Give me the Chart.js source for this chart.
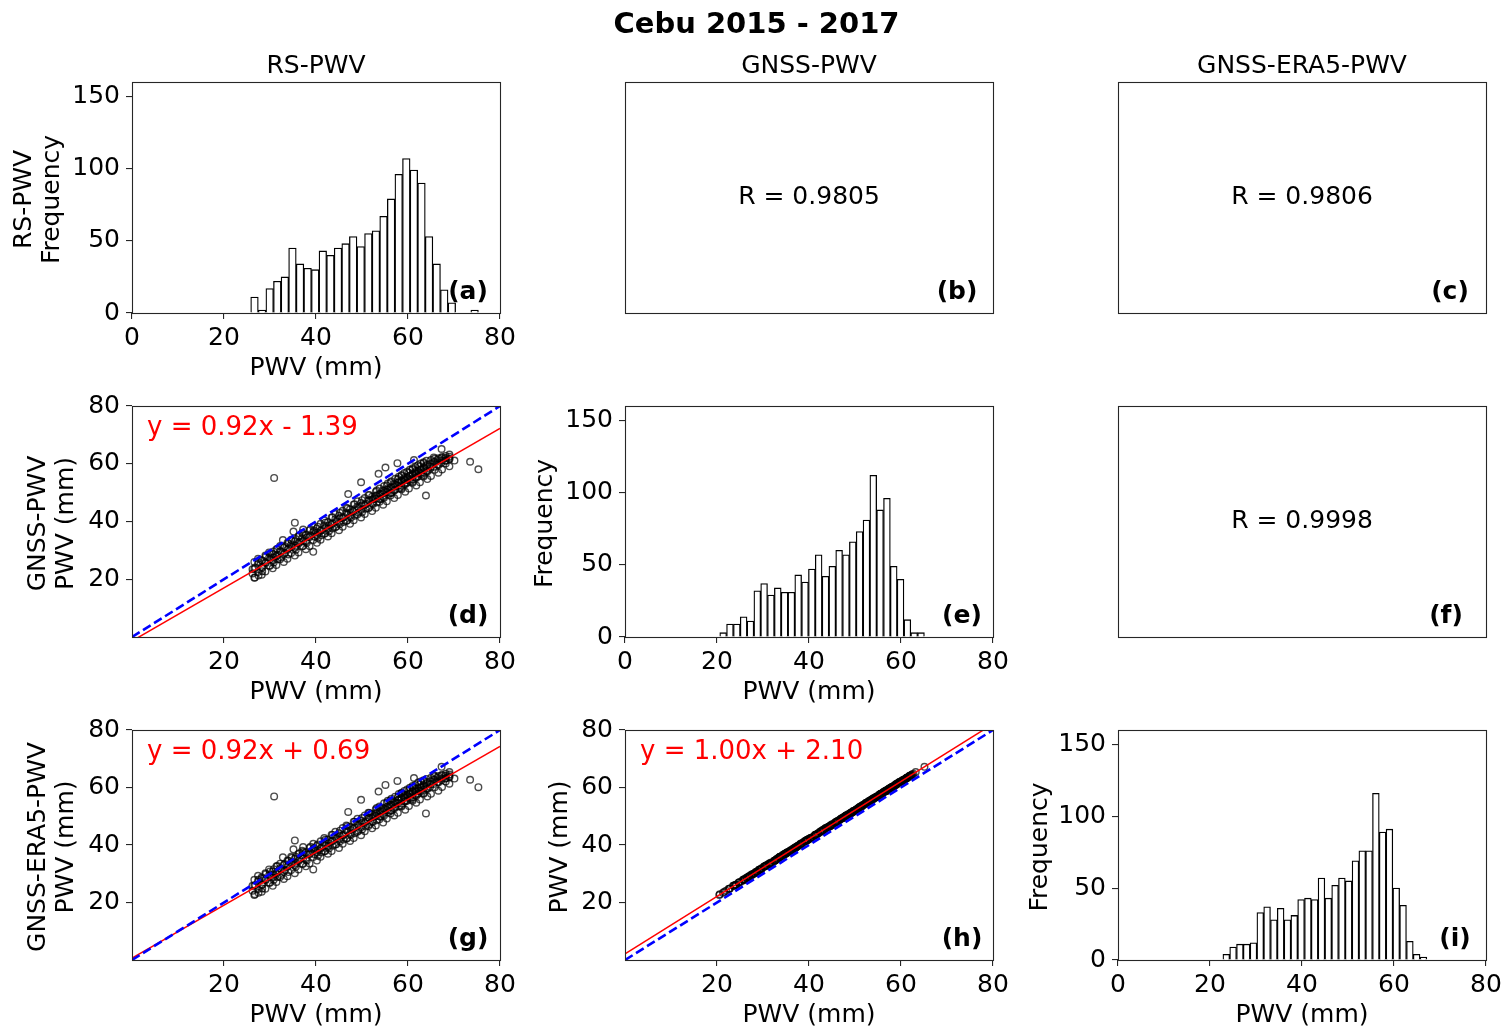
<!DOCTYPE html>
<html>
<head>
<meta charset="utf-8">
<title>Cebu 2015 - 2017</title>
<script src="https://cdn.jsdelivr.net/npm/chart.js@4.4.1/dist/chart.umd.min.js"></script>
<style>
  html, body { margin: 0; background: #fff; }
  #fig { position: relative; width: 1509px; height: 1030px; }
  #fig canvas { position: absolute; left: 0; top: 0; }
</style>
</head>
<body>
<div id="fig"></div>
<script>
// histogram bin centres (mm) and counts
const rsBins = [26.63, 28.28, 29.93, 31.58, 33.23, 34.88, 36.53, 38.18, 39.83, 41.48,
  43.13, 44.78, 46.43, 48.08, 49.73, 51.38, 53.03, 54.68, 56.33, 57.98,
  59.63, 61.28, 62.93, 64.58, 66.23, 67.88, 69.53, 71.18, 72.83, 74.48];
const rsCounts = [11, 2, 17, 22, 25, 45, 34, 31, 30, 43, 40, 45, 48, 53, 46, 55, 57, 67, 79, 96,
  107, 99, 90, 53, 34, 16, 7, 0, 0, 2];

const gnssBins = [21.34, 22.82, 24.31, 25.79, 27.27, 28.76, 30.24, 31.72, 33.21, 34.69,
  36.17, 37.65, 39.14, 40.62, 42.10, 43.59, 45.07, 46.55, 48.04, 49.52,
  51.00, 52.49, 53.97, 55.45, 56.94, 58.42, 59.90, 61.39, 62.87, 64.35];
const gnssCounts = [3, 9, 9, 14, 11, 32, 37, 29, 34, 31, 31, 43, 38, 47, 57, 42, 49, 60, 57, 66,
  73, 81, 112, 88, 96, 49, 40, 12, 3, 3];

const era5Bins = [23.54, 25.02, 26.50, 27.97, 29.45, 30.93, 32.41, 33.89, 35.36, 36.84,
  38.32, 39.80, 41.28, 42.75, 44.23, 45.71, 47.19, 48.67, 50.14, 51.62,
  53.10, 54.58, 56.06, 57.53, 59.01, 60.49, 61.97, 63.45, 64.92, 66.40];
const era5Counts = [4, 9, 11, 11, 12, 33, 37, 28, 36, 28, 31, 42, 43, 42, 57, 43, 52, 57, 55, 69,
  76, 76, 116, 89, 91, 50, 38, 13, 4, 2];

// paired observations (mm): RS, GNSS and GNSS-ERA5 for the same launches
const rsPwv = [26.2, 26.2, 26.7, 26.8, 27.5, 27.5, 28.3, 28.3, 28.3, 29.1,
  29.1, 30.0, 30.0, 30.0, 30.8, 30.8, 30.8, 30.9, 31.6, 31.6,
  31.6, 32.4, 32.4, 32.8, 33.2, 33.2, 34.0, 34.0, 34.0, 34.7,
  34.7, 35.1, 35.4, 35.6, 35.6, 35.6, 36.4, 36.4, 37.2, 37.2,
  37.2, 37.2, 38.0, 38.0, 38.8, 38.8, 39.4, 39.6, 39.6, 40.4,
  40.4, 40.4, 41.2, 41.2, 42.0, 42.0, 42.0, 42.8, 42.8, 43.6,
  43.6, 43.6, 44.4, 44.4, 45.2, 45.2, 45.2, 46.0, 46.0, 46.8,
  46.8, 46.8, 47.0, 47.6, 47.6, 48.4, 48.4, 48.4, 49.2, 49.2,
  49.8, 50.0, 50.0, 50.0, 50.8, 50.8, 51.6, 51.6, 51.6, 52.4,
  52.4, 53.2, 53.2, 53.2, 53.6, 54.0, 54.0, 54.8, 54.8, 54.8,
  55.1, 55.6, 55.6, 55.6, 56.4, 56.4, 56.4, 57.2, 57.2, 57.2,
  57.7, 58.0, 58.0, 58.0, 58.6, 58.6, 58.6, 59.2, 59.2, 59.2,
  59.8, 59.8, 59.8, 60.4, 60.4, 60.4, 61.0, 61.0, 61.0, 61.3,
  61.6, 61.6, 61.6, 62.2, 62.2, 62.2, 62.8, 62.8, 62.8, 63.4,
  63.4, 63.4, 63.9, 64.0, 64.0, 64.0, 64.8, 64.8, 65.6, 65.6,
  65.6, 66.4, 66.4, 67.3, 67.3, 67.3, 68.2, 68.2, 69.0, 69.0,
  70.1, 73.5, 75.3,
  26.6, 26.6, 26.6, 27.4, 27.4, 27.4, 28.2, 28.2, 28.2, 29.0, 29.0, 29.0,
  29.8, 29.8, 29.8, 30.6, 30.6, 30.6, 31.4, 31.4, 31.4, 32.2, 32.2, 32.2,
  33.0, 33.0, 33.0, 33.8, 33.8, 33.8, 34.6, 34.6, 34.6, 35.4, 35.4, 35.4,
  36.2, 36.2, 36.2, 37.0, 37.0, 37.0, 37.8, 37.8, 37.8, 38.6, 38.6, 38.6,
  39.4, 39.4, 39.4, 40.2, 40.2, 40.2, 41.0, 41.0, 41.0, 41.8, 41.8, 41.8,
  42.6, 42.6, 42.6, 43.4, 43.4, 43.4, 44.2, 44.2, 44.2, 45.0, 45.0, 45.0,
  45.8, 45.8, 45.8, 46.6, 46.6, 46.6, 47.4, 47.4, 47.4, 48.2, 48.2, 48.2,
  49.0, 49.0, 49.0, 49.8, 49.8, 49.8, 50.6, 50.6, 50.6, 51.4, 51.4, 51.4,
  52.2, 52.2, 52.2, 52.2, 53.0, 53.0, 53.0, 53.0, 53.8, 53.8, 53.8, 53.8,
  54.6, 54.6, 54.6, 54.6, 55.4, 55.4, 55.4, 55.4, 56.2, 56.2, 56.2, 56.2,
  57.0, 57.0, 57.0, 57.0, 57.8, 57.8, 57.8, 57.8, 58.6, 58.6, 58.6, 58.6,
  59.4, 59.4, 59.4, 59.4, 60.2, 60.2, 60.2, 60.2, 61.0, 61.0, 61.0, 61.0,
  61.8, 61.8, 61.8, 61.8, 62.6, 62.6, 62.6, 62.6, 63.4, 63.4, 63.4, 63.4,
  64.2, 64.2, 64.2, 65.0, 65.0, 65.0, 65.8, 65.8, 65.8, 66.6, 66.6, 66.6,
  67.4, 67.4, 67.4, 68.2, 68.2, 68.2, 69.0, 69.0, 69.0];
const gnssPwv = [22.0, 23.5, 20.6, 24.1, 21.3, 25.9, 24.0, 26.5, 22.8, 25.6,
  27.8, 26.9, 24.7, 28.8, 27.5, 29.6, 25.8, 55.1, 28.4, 26.9,
  30.5, 29.6, 27.5, 33.6, 29.1, 31.4, 30.7, 28.6, 32.5, 31.2,
  33.4, 36.5, 39.6, 31.6, 33.9, 30.2, 32.9, 35.1, 33.1, 35.6,
  37.2, 31.5, 34.5, 32.6, 35.2, 37.3, 29.5, 34.8, 36.9, 36.1,
  38.2, 34.3, 37.0, 35.2, 37.8, 39.6, 35.9, 38.5, 36.6, 39.4,
  41.5, 37.6, 40.1, 38.3, 41.2, 43.0, 39.1, 41.5, 39.8, 42.6,
  44.5, 40.4, 49.5, 43.1, 41.4, 44.2, 42.0, 46.0, 44.7, 43.0,
  53.6, 45.6, 47.4, 43.2, 46.1, 44.4, 47.3, 49.1, 45.0, 47.8,
  46.1, 48.9, 50.7, 46.6, 56.5, 49.5, 47.7, 50.6, 52.3, 48.2,
  58.7, 51.0, 49.4, 53.2, 51.8, 50.0, 53.9, 52.7, 51.0, 54.8,
  60.2, 53.6, 51.5, 55.5, 54.2, 52.4, 56.1, 54.6, 53.0, 56.8,
  55.3, 53.4, 57.2, 55.8, 54.0, 57.9, 56.5, 54.6, 58.4, 61.3,
  56.9, 55.2, 58.8, 57.6, 55.7, 59.5, 58.0, 56.4, 60.1, 58.7,
  57.0, 60.5, 49.0, 59.2, 57.5, 61.0, 59.9, 58.3, 60.6, 59.0,
  62.2, 61.3, 59.7, 65.1, 62.0, 60.4, 62.7, 61.0, 63.2, 61.6,
  61.1, 60.7, 58.1,
  20.5, 23.6, 26.0, 22.5, 25.3, 27.1, 21.6, 24.2, 26.6, 22.7, 25.8, 28.2,
  24.7, 27.5, 29.3, 23.8, 26.4, 28.8, 24.9, 28.0, 30.4, 26.9, 29.7, 31.5,
  26.0, 28.6, 31.0, 27.1, 30.2, 32.6, 29.1, 31.9, 33.7, 28.2, 30.8, 33.2,
  29.3, 32.4, 34.8, 31.4, 34.2, 36.0, 30.4, 33.0, 35.4, 31.5, 34.6, 37.0,
  33.6, 36.4, 38.2, 32.6, 35.2, 37.6, 33.7, 36.8, 39.2, 35.8, 38.6, 40.4,
  34.8, 37.4, 39.8, 35.9, 39.0, 41.4, 38.0, 40.8, 42.6, 37.0, 39.6, 42.0,
  38.2, 41.3, 43.7, 40.2, 43.0, 44.8, 39.2, 41.8, 44.2, 40.4, 43.5, 45.9,
  42.4, 45.2, 47.0, 41.4, 44.0, 46.4, 42.6, 45.7, 48.1, 44.6, 47.4, 49.2,
  43.6, 46.2, 48.6, 47.6, 44.8, 47.9, 50.3, 49.0, 46.8, 49.6, 51.4, 47.9,
  45.8, 48.4, 50.8, 49.8, 47.0, 50.1, 52.5, 51.2, 49.0, 51.8, 53.6, 49.8,
  48.1, 50.7, 53.1, 52.1, 49.2, 52.3, 54.7, 53.5, 51.2, 54.0, 55.8, 51.6,
  50.3, 52.9, 55.3, 54.3, 51.4, 54.5, 56.9, 55.7, 53.4, 56.2, 58.0, 53.8,
  52.5, 55.1, 57.5, 56.5, 53.6, 56.7, 59.1, 57.9, 55.6, 58.4, 60.2, 56.0,
  54.7, 57.3, 59.7, 55.8, 58.9, 61.3, 57.9, 60.7, 61.8, 56.9, 59.5, 61.9,
  58.0, 61.1, 62.3, 60.1, 62.0, 61.2, 59.1, 61.7, 62.4];
const gnssEra5Pwv = [24.1, 25.8, 22.9, 26.1, 23.4, 27.9, 26.2, 28.4, 24.9, 27.8,
  29.9, 29.0, 26.9, 30.8, 29.7, 31.6, 27.9, 56.9, 30.6, 28.9,
  32.7, 31.6, 29.6, 35.7, 31.3, 33.4, 32.9, 30.6, 34.5, 33.4,
  35.5, 38.5, 41.6, 33.8, 35.9, 32.4, 35.0, 37.1, 35.3, 37.6,
  39.3, 33.5, 36.7, 34.6, 37.3, 39.4, 31.5, 36.9, 39.0, 38.3,
  40.2, 36.3, 39.1, 37.4, 39.8, 41.8, 37.9, 40.6, 38.8, 41.5,
  43.5, 39.7, 42.3, 40.3, 43.3, 45.0, 41.3, 43.6, 41.9, 44.8,
  46.5, 42.4, 51.5, 45.2, 43.6, 46.2, 44.1, 48.1, 46.9, 45.0,
  55.7, 47.7, 49.4, 45.4, 48.3, 46.4, 49.4, 51.1, 47.2, 49.9,
  48.1, 51.0, 52.9, 48.6, 58.6, 51.7, 49.8, 52.6, 54.5, 50.3,
  60.9, 53.1, 51.4, 55.4, 53.9, 52.0, 56.1, 54.8, 53.2, 56.8,
  62.3, 55.7, 53.5, 57.7, 56.4, 54.4, 58.2, 56.7, 55.2, 58.8,
  57.5, 55.4, 59.3, 57.9, 56.2, 59.9, 58.7, 56.6, 60.5, 63.3,
  59.0, 57.4, 60.8, 59.7, 57.8, 61.7, 60.1, 58.6, 62.1, 60.8,
  59.2, 62.5, 51.0, 61.3, 59.7, 63.0, 62.1, 60.3, 62.7, 61.2,
  64.2, 63.4, 61.9, 67.2, 64.1, 62.6, 64.8, 63.1, 65.4, 63.6,
  63.1, 62.7, 60.1,
  22.6, 25.8, 27.9, 24.7, 27.3, 29.3, 23.7, 26.2, 28.8, 24.8, 28.0, 30.2,
  26.9, 29.5, 31.5, 25.8, 28.6, 30.8, 27.1, 30.0, 32.6, 28.9, 31.9, 33.5,
  28.2, 30.6, 33.1, 29.1, 32.4, 34.6, 31.3, 33.9, 35.9, 30.2, 33.0, 35.2,
  31.5, 34.4, 36.9, 33.4, 36.4, 38.0, 32.6, 35.0, 37.5, 33.6, 36.8, 39.0,
  35.8, 38.4, 40.4, 34.6, 37.4, 39.7, 35.9, 38.8, 41.3, 37.8, 40.8, 42.4,
  37.0, 39.4, 41.9, 37.9, 41.2, 43.6, 40.2, 42.8, 44.6, 39.0, 41.8, 44.1,
  40.4, 43.3, 45.9, 42.2, 45.2, 46.8, 41.4, 43.8, 46.3, 42.4, 45.7, 48.1,
  44.6, 47.2, 49.1, 43.4, 46.2, 48.5, 44.8, 47.7, 50.3, 46.6, 49.6, 51.2,
  45.8, 48.2, 50.7, 49.6, 46.8, 50.1, 52.4, 51.1, 49.0, 51.6, 53.4, 50.0,
  47.8, 50.6, 52.9, 51.9, 49.2, 52.1, 54.7, 53.3, 51.0, 54.0, 55.6, 51.9,
  50.3, 52.7, 55.2, 54.2, 51.2, 54.5, 56.7, 55.6, 53.4, 56.0, 57.9, 53.7,
  52.3, 55.1, 57.4, 56.4, 53.6, 56.5, 59.0, 57.8, 55.4, 58.4, 60.0, 55.9,
  54.7, 57.1, 59.6, 58.6, 55.8, 58.9, 61.1, 60.0, 57.8, 60.4, 62.3, 58.1,
  56.9, 59.5, 61.8, 57.8, 61.1, 63.4, 60.1, 62.7, 63.9, 58.9, 61.7, 64.0,
  60.2, 63.1, 64.4, 62.1, 64.1, 63.3, 61.3, 63.9, 64.5];

// linear fits and correlations
const fitGnssRs = { slope: 0.92, intercept: -1.39 };
const fitEra5Rs = { slope: 0.92, intercept: 0.69 };
const fitEra5Gnss = { slope: 1.00, intercept: 2.10 };
const rGnssRs = 0.9805;
const rEra5Rs = 0.9806;
const rEra5Gnss = 0.9998;

// tick labels
const histTicksX = [0, 20, 40, 60, 80];
const histTicksY = [0, 50, 100, 150];
const pwvTicks = [20, 40, 60, 80];

const W = 1509, H = 1030;
const colLeft = [132, 625, 1118], colRight = [500, 993, 1486];
const rowTop = [82, 406, 730], rowBottom = [313, 637, 960];
const Y_AXIS_W = 70, X_AXIS_H = 45;
const FONT = "'DejaVu Sans', sans-serif";

Chart.defaults.font.family = FONT;
Chart.defaults.font.size = 25;
Chart.defaults.color = '#000';
Chart.defaults.animation = false;

// frame, titles, axis labels and annotations, matplotlib style
const decor = {
  id: 'decor',
  afterDraw(chart, args, o) {
    const { ctx, chartArea: a } = chart;
    const cx = (a.left + a.right) / 2, cy = (a.top + a.bottom) / 2;
    ctx.save();
    ctx.strokeStyle = '#262626';
    ctx.lineWidth = 1.1;
    ctx.strokeRect(Math.round(a.left) + 0.5, Math.round(a.top) + 0.5, Math.round(a.width), Math.round(a.height));
    ctx.fillStyle = '#000';
    ctx.font = `25px ${FONT}`;
    ctx.textBaseline = 'alphabetic';
    ctx.textAlign = 'center';
    if (o.title) ctx.fillText(o.title, cx, a.top - 9);
    if (o.xlabel) ctx.fillText(o.xlabel, cx, a.bottom + 62);
    (o.ylabel || []).forEach(([txt, dx]) => {
      ctx.save();
      ctx.translate(a.left + dx, cy + 2);
      ctx.rotate(-Math.PI / 2);
      ctx.textBaseline = 'middle';
      ctx.fillText(txt, 0, 0);
      ctx.restore();
    });
    if (o.rText) {
      ctx.textBaseline = 'middle';
      ctx.fillText(o.rText, cx, cy);
      ctx.textBaseline = 'alphabetic';
    }
    if (o.eq) {
      ctx.fillStyle = '#ff0000';
      ctx.font = `26px ${FONT}`;
      ctx.textAlign = 'left';
      ctx.fillText(o.eq, a.left + 15, a.top + 29);
      ctx.textAlign = 'center';
      ctx.fillStyle = '#000';
    }
    if (o.letter) {
      ctx.font = `bold 25px ${FONT}`;
      ctx.fillText(o.letter, a.right - o.letterDx, a.bottom - 14);
    }
    if (o.suptitle) {
      ctx.font = `bold 29px ${FONT}`;
      ctx.fillText(o.suptitle, W / 2 + 2, 33);
    }
    ctx.restore();
  }
};

function box(row, col) {
  return { l: colLeft[col], r: colRight[col], t: rowTop[row], b: rowBottom[row] };
}

function padFor(b, withAxes) {
  return withAxes
    ? { left: b.l - Y_AXIS_W, right: W - b.r, top: b.t, bottom: H - b.b - X_AXIS_H }
    : { left: b.l, right: W - b.r, top: b.t, bottom: H - b.b };
}

function linAxis(min, max, ticks, axis) {
  return {
    type: 'linear', min, max, offset: false,
    grid: { drawOnChartArea: false, drawTicks: true, tickLength: 6, color: '#262626', lineWidth: 1.1, offset: false },
    border: { display: false },
    ticks: { padding: axis === 'x' ? 4 : 6, autoSkip: false, maxRotation: 0, minRotation: 0, color: '#000', font: { size: 25 } },
    afterBuildTicks: s => { s.ticks = ticks.map(v => ({ value: v })); },
    afterFit: s => {
      if (axis === 'x') { s.height = X_AXIS_H; s.paddingLeft = 0; s.paddingRight = 0; }
      else { s.width = Y_AXIS_W; s.paddingTop = 0; s.paddingBottom = 0; }
    }
  };
}

function addChart(config) {
  const c = document.createElement('canvas');
  c.width = W;
  c.height = H;
  document.getElementById('fig').appendChild(c);
  config.options.responsive = false;
  config.options.devicePixelRatio = 1;
  config.options.plugins.legend = { display: false };
  config.options.plugins.tooltip = { enabled: false };
  config.plugins = [decor];
  return new Chart(c, config);
}

function histPanel(row, col, bins, counts, deco) {
  return addChart({
    type: 'bar',
    data: {
      datasets: [{
        data: bins.map((x, i) => ({ x, y: counts[i] })),
        backgroundColor: '#fff', borderColor: '#000', borderWidth: 1.3,
        barPercentage: 1, categoryPercentage: 1
      }]
    },
    options: {
      layout: { padding: padFor(box(row, col), true) },
      plugins: { decor: deco },
      scales: { x: linAxis(0, 80, histTicksX, 'x'), y: linAxis(0, 160, histTicksY, 'y') }
    }
  });
}

function scatterPanel(row, col, xs, ys, fit, deco) {
  return addChart({
    type: 'scatter',
    data: {
      datasets: [
        { data: [{ x: 0, y: 0 }, { x: 80, y: 80 }], showLine: true, borderColor: '#0000ff',
          borderWidth: 2.6, borderDash: [9, 4], pointRadius: 0, order: 1 },
        { data: [{ x: 0, y: fit.intercept }, { x: 80, y: fit.slope * 80 + fit.intercept }], showLine: true,
          borderColor: '#ff0000', borderWidth: 1.5, pointRadius: 0, order: 2 },
        { data: xs.map((x, i) => ({ x, y: ys[i] })), pointRadius: 3.3, pointBorderWidth: 1.4,
          pointBorderColor: 'rgba(0,0,0,0.7)', pointBackgroundColor: 'rgba(0,0,0,0)', order: 3 }
      ]
    },
    options: {
      layout: { padding: padFor(box(row, col), true) },
      plugins: { decor: deco },
      scales: { x: linAxis(0, 80, pwvTicks, 'x'), y: linAxis(0, 80, pwvTicks, 'y') }
    }
  });
}

function textPanel(row, col, deco) {
  return addChart({
    type: 'scatter',
    data: { datasets: [] },
    options: {
      layout: { padding: padFor(box(row, col), false) },
      plugins: { decor: deco },
      scales: { x: { display: false, min: 0, max: 1 }, y: { display: false, min: 0, max: 1 } }
    }
  });
}

const eqText = f => `y = ${f.slope.toFixed(2)}x ${f.intercept < 0 ? '-' : '+'} ${Math.abs(f.intercept).toFixed(2)}`;
const rText = r => `R = ${r.toFixed(4)}`;

histPanel(0, 0, rsBins, rsCounts, {
  title: 'RS-PWV', xlabel: 'PWV (mm)', ylabel: [['RS-PWV', -108], ['Frequency', -80]], letter: '(a)', letterDx: 32
});
textPanel(0, 1, { title: 'GNSS-PWV', suptitle: 'Cebu 2015 - 2017', rText: rText(rGnssRs), letter: '(b)', letterDx: 36 });
textPanel(0, 2, { title: 'GNSS-ERA5-PWV', rText: rText(rEra5Rs), letter: '(c)', letterDx: 36 });

scatterPanel(1, 0, rsPwv, gnssPwv, fitGnssRs, {
  xlabel: 'PWV (mm)', ylabel: [['GNSS-PWV', -94], ['PWV (mm)', -66]], eq: eqText(fitGnssRs), letter: '(d)', letterDx: 32
});
histPanel(1, 1, gnssBins, gnssCounts, { xlabel: 'PWV (mm)', ylabel: [['Frequency', -80]], letter: '(e)', letterDx: 31 });
textPanel(1, 2, { rText: rText(rEra5Gnss), letter: '(f)', letterDx: 40 });

scatterPanel(2, 0, rsPwv, gnssEra5Pwv, fitEra5Rs, {
  xlabel: 'PWV (mm)', ylabel: [['GNSS-ERA5-PWV', -94], ['PWV (mm)', -66]], eq: eqText(fitEra5Rs), letter: '(g)', letterDx: 32
});
scatterPanel(2, 1, gnssPwv, gnssEra5Pwv, fitEra5Gnss, {
  xlabel: 'PWV (mm)', ylabel: [['PWV (mm)', -65]], eq: eqText(fitEra5Gnss), letter: '(h)', letterDx: 31
});
histPanel(2, 2, era5Bins, era5Counts, { xlabel: 'PWV (mm)', ylabel: [['Frequency', -78]], letter: '(i)', letterDx: 31 });
</script>
</body>
</html>
